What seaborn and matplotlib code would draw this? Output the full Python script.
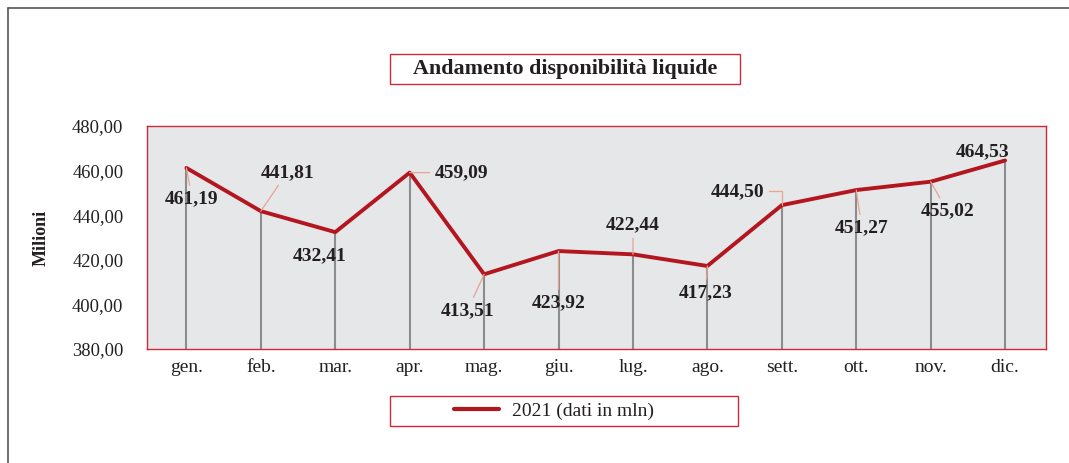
# ============================================================
# IMPORT LIBRARIES
# ============================================================

import numpy as np
import pandas as pd
import matplotlib.pyplot as plt
import seaborn as sns
from matplotlib.patches import Rectangle
from matplotlib.lines import Line2D
from matplotlib.ticker import FuncFormatter

# ============================================================
# DATA
# ============================================================

months = ["gen.", "feb.", "mar.", "apr.", "mag.", "giu.",
          "lug.", "ago.", "sett.", "ott.", "nov.", "dic."]

values = [461.19, 441.81, 432.41, 459.09, 413.51, 423.92,
          422.44, 417.23, 444.50, 451.27, 455.02, 464.53]

value_labels = ["461,19", "441,81", "432,41", "459,09", "413,51", "423,92",
                "422,44", "417,23", "444,50", "451,27", "455,02", "464,53"]

series_name = "2021 (dati in mln)"

# label offsets in points (x, y) and whether a leader line is drawn
label_offsets = [(4, -22), (19, 28), (-11, -17), (37, 0), (-12, -26), (0, -37),
                 (0, 21), (-1, -19), (-32, 10), (4, -27), (12, -21), (-16, 6)]
has_leader = [True, True, False, True, True, True,
              True, True, True, True, True, False]

df = pd.DataFrame({"month": months, "value": values})

# ============================================================
# STYLE
# ============================================================

sns.set_style("white")
plt.rcParams["font.family"] = ["Liberation Serif", "DejaVu Serif"]

RED_LINE = "#b3161e"
RED_FRAME = "#cc2a36"
TEXT = "#231f20"
LEADER = "#e9a38f"
DROP = "#8c8c8c"

# ============================================================
# FIGURE
# ============================================================

fig = plt.figure(figsize=(10.69, 4.63), dpi=100)
ax = fig.add_axes([0.1375, 0.2462, 0.841, 0.4817])
ax.set_facecolor("#e6e7e9")

x = np.arange(len(months))

# vertical drop lines
ax.vlines(x, 380, df["value"], color=DROP, lw=1.5, zorder=2)

sns.lineplot(x=x, y=df["value"], ax=ax, color=RED_LINE, lw=2.8,
             zorder=3, legend=False)

# value labels
for i in range(len(values)):
    arrow = None
    if has_leader[i]:
        arrow = dict(arrowstyle="-", color=LEADER, lw=0.9,
                     shrinkA=1, shrinkB=0)
        if i == 8:
            arrow["connectionstyle"] = "angle,angleA=0,angleB=90,rad=0"
    ax.annotate(value_labels[i], xy=(x[i], values[i]),
                xytext=label_offsets[i], textcoords="offset points",
                ha="center", va="center", fontsize=14, fontweight="bold",
                color=TEXT, arrowprops=arrow, zorder=4)

# ============================================================
# AXES
# ============================================================

ax.set_xlim(-0.53, 11.55)
ax.set_ylim(380, 480)
ax.set_yticks([380, 400, 420, 440, 460, 480])
ax.yaxis.set_major_formatter(
    FuncFormatter(lambda v, p: f"{v:.2f}".replace(".", ","))
)
ax.set_xticks(x)
ax.set_xticklabels(months)
ax.tick_params(axis="y", length=0, pad=17, labelsize=13.3, labelcolor=TEXT)
ax.tick_params(axis="x", length=0, pad=7, labelsize=14, labelcolor=TEXT)
ax.set_xlabel("")
ax.set_ylabel("Milioni", fontsize=13, fontweight="bold", color=TEXT,
              labelpad=16)

for s in ax.spines.values():
    s.set_color(RED_FRAME)
    s.set_linewidth(1.0)

# ============================================================
# TITLE BOX
# ============================================================

fig.patches.append(Rectangle((0.365, 0.8186), 0.3274, 0.0648,
                             transform=fig.transFigure, fill=False,
                             edgecolor=RED_FRAME, lw=1.0))
fig.text(0.5285, 0.851, "Andamento disponibilità liquide",
         ha="center", va="center", fontsize=15.8, fontweight="bold",
         color=TEXT)

# ============================================================
# LEGEND
# ============================================================

fig.patches.append(Rectangle((0.3648, 0.0799), 0.3256, 0.0648,
                             transform=fig.transFigure, fill=False,
                             edgecolor=RED_FRAME, lw=1.0))
handle = Line2D([0], [0], color=RED_LINE, lw=3)
fig.legend([handle], [series_name], loc="center",
           bbox_to_anchor=(0.518, 0.112), frameon=False,
           fontsize=14, handlelength=2.3, handletextpad=0.67,
           labelcolor=TEXT)

# ============================================================
# OUTER FRAME
# ============================================================

fig.add_artist(Line2D([8 / 1069, 1.0], [1 - 8 / 463, 1 - 8 / 463],
                      transform=fig.transFigure, color="#555555", lw=1.2))
fig.add_artist(Line2D([8 / 1069, 8 / 1069], [0.0, 1 - 8 / 463],
                      transform=fig.transFigure, color="#555555", lw=1.2))

fig.savefig("out.png", dpi=100)
